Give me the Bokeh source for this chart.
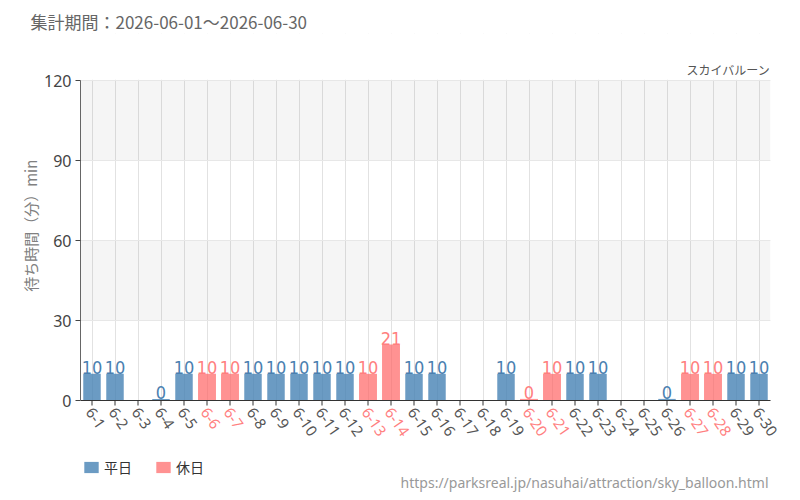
from bokeh.plotting import figure
from bokeh.models import (ColumnDataSource, LabelSet, Label, BoxAnnotation, Legend,
                          LegendItem, FixedTicker, Range1d, Title)
from bokeh.core.properties import value
from bokeh.embed import file_html
from bokeh.resources import INLINE

days = ["6-1", "6-2", "6-3", "6-4", "6-5", "6-6", "6-7", "6-8", "6-9", "6-10",
        "6-11", "6-12", "6-13", "6-14", "6-15", "6-16", "6-17", "6-18", "6-19", "6-20",
        "6-21", "6-22", "6-23", "6-24", "6-25", "6-26", "6-27", "6-28", "6-29", "6-30"]
waits = [10, 10, None, 0, 10, 10, 10, 10, 10, 10,
         10, 10, 10, 21, 10, 10, None, None, 10, 0,
         10, 10, 10, None, None, 0, 10, 10, 10, 10]
holiday = [False, False, False, False, False, True, True, False, False, False,
           False, False, True, True, False, False, False, False, False, True,
           True, False, False, False, False, False, True, True, False, False]
y_ticks = [0, 30, 60, 90, 120]

title_text = "集計期間：2026-06-01～2026-06-30"
attraction = "スカイバルーン"
url_text = "https://parksreal.jp/nasuhai/attraction/sky_balloon.html"
y_label = "待ち時間（分）min"

JP = "Noto Sans CJK JP"
BLUE = "#4682b4"
PINK = "#ff6464"
BLUE_TXT = "#4a80b0"
PINK_TXT = "#ff7f7f"
NARROW = "Liberation Sans Narrow, DejaVu Sans Condensed, Roboto"

pos = list(range(1, len(days) + 1))

# frame: page x 80..800, y TOP..500 ; value 0 at page y=400, 120 at y=80 ; 23 px per day
TOP = 33
PX_PER_UNIT = 320 / 120.0
y_low = -100 / PX_PER_UNIT
y_high = 120 + (80 - TOP) / PX_PER_UNIT
x_end = len(days) + 0.5
x_high = x_end + 30 / 23.0

p = figure(width=800, height=500, x_range=Range1d(0.5, x_high),
           y_range=Range1d(y_low, y_high),
           output_backend="svg", toolbar_location=None,
           min_border_left=80, min_border_right=0, min_border_top=TOP, min_border_bottom=0)
p.outline_line_color = None
p.background_fill_color = "white"
p.xaxis.visible = False

# bands
p.add_layout(BoxAnnotation(bottom=30, top=60, right=x_end, fill_color="#000000", fill_alpha=0.04,
                           line_color=None, level="underlay"))
p.add_layout(BoxAnnotation(bottom=90, top=120, right=x_end, fill_color="#000000", fill_alpha=0.04,
                           line_color=None, level="underlay"))
# blank margins outside the plotting area
p.add_layout(BoxAnnotation(top=0, fill_color="white", fill_alpha=1, line_color=None, level="underlay"))
p.add_layout(BoxAnnotation(bottom=120.3, fill_color="white", fill_alpha=1, line_color=None, level="underlay"))
p.add_layout(BoxAnnotation(left=x_end, fill_color="white", fill_alpha=1, line_color=None, level="underlay"))

def build(flag):
    xs, tops, labels = [], [], []
    for x, w, h in zip(pos, waits, holiday):
        if w is None or h != flag:
            continue
        xs.append(x)
        tops.append(max(w, 0.6))
        labels.append(str(w))
    return ColumnDataSource(dict(x=xs, top=tops, label=labels))

src_w = build(False)
src_h = build(True)

r1 = p.vbar(x="x", top="top", width=0.76, source=src_w, fill_color=BLUE, fill_alpha=0.8, line_color=None)
r2 = p.vbar(x="x", top="top", width=0.78, source=src_h, fill_color=PINK, fill_alpha=0.7, line_color=None)

for src, col in ((src_w, BLUE_TXT), (src_h, PINK_TXT)):
    p.add_layout(LabelSet(x="x", y="top", text="label", source=src, text_align="center",
                          text_baseline="bottom", y_offset=0, text_color=col,
                          text_font=value(NARROW), text_font_size="18px"))

# baseline and category ticks
tick_len = 5 / PX_PER_UNIT
p.segment(x0=[0.5], y0=[0], x1=[x_end], y1=[0], line_color="#333333", line_width=1)
p.segment(x0=pos, y0=[0] * len(pos), x1=pos, y1=[-tick_len] * len(pos), line_color="#333333", line_width=1)

# category labels (pink on weekends)
xl_src = ColumnDataSource(dict(x=pos, y=[0] * len(pos), label=days,
                               color=[PINK_TXT if h else "#555555" for h in holiday]))
p.add_layout(LabelSet(x="x", y="y", text="label", source=xl_src, text_align="left",
                      text_baseline="middle", y_offset=-9, x_offset=-3, angle=-55, angle_units="deg",
                      text_color="color", text_font=value("Noto Sans"), text_font_size="15px"))

# y axis
yt = FixedTicker(ticks=y_ticks)
p.yaxis.ticker = yt
p.ygrid.ticker = yt
p.yaxis.bounds = (0, 120)
p.yaxis.axis_line_color = "#666666"
p.yaxis.major_tick_line_color = "#444444"
p.yaxis.major_tick_out = 5
p.yaxis.major_tick_in = 0
p.yaxis.minor_tick_line_color = None
p.yaxis.major_label_text_font = "Noto Sans"
p.yaxis.major_label_text_font_size = "16px"
p.yaxis.major_label_text_color = "#444444"
p.yaxis.major_label_standoff = 4
# leading ideographic spaces keep the visible label centred on the 0-120 span
p.yaxis.axis_label = "\u3000\u3000\u3000\u3000\u3000\u2002" + y_label
p.yaxis.axis_label_text_font = JP
p.yaxis.axis_label_text_font_style = "normal"
p.yaxis.axis_label_text_font_size = "15px"
p.yaxis.axis_label_text_color = "#808080"
p.yaxis.axis_label_standoff = 0

p.xgrid.ticker = FixedTicker(ticks=pos)
p.xgrid.grid_line_color = "#e2e2e2"
p.ygrid.grid_line_color = "#ececec"

# top texts
p.add_layout(Title(text=title_text, align="left", offset=-50, text_font=JP, text_font_size="17px",
                   text_color="#666666", text_font_style="normal", standoff=0), "above")
p.add_layout(Label(x=690, y=431, x_units="screen", y_units="screen", text=attraction,
                   text_font=JP, text_font_size="12px", text_color="#555555",
                   text_baseline="middle", text_align="right"))

legend = Legend(items=[LegendItem(label="平日", renderers=[r1]),
                       LegendItem(label="休日", renderers=[r2])],
                location=(2, 23), orientation="horizontal",
                glyph_width=18, glyph_height=14, label_standoff=4, spacing=22,
                padding=0, margin=0, border_line_color=None, background_fill_alpha=0,
                label_text_font=JP, label_text_font_size="14px",
                label_text_color="#333333", label_height=14)
p.add_layout(legend)

p.add_layout(Label(x=688, y=18, x_units="screen", y_units="screen", text=url_text,
                   text_font="Noto Sans", text_font_size="14px", text_color="#999999",
                   text_baseline="middle", text_align="right"))

open("out.html", "w").write(file_html(p, INLINE))
